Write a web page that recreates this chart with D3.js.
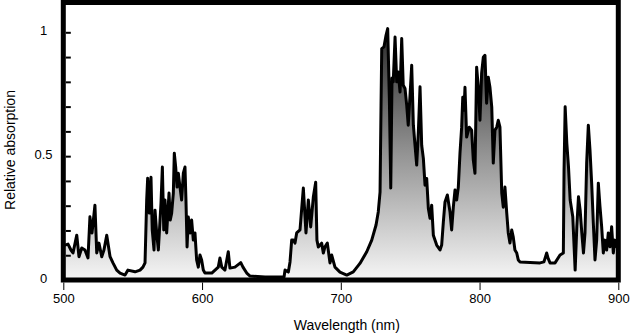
<!DOCTYPE html>
<html>
<head>
<meta charset="utf-8">
<script src="https://cdn.jsdelivr.net/npm/d3@7"></script>
<style>
  html, body { margin: 0; padding: 0; background: #fff; }
  svg { display: block; }
  text { font-family: "Liberation Sans", Arial, sans-serif; fill: #000; }
</style>
</head>
<body>
<svg id="chart" width="635" height="336"></svg>
<script>
// Absorption spectrum: wavelength (nm) and relative absorption
const wavelengths = [
  500, 501.2, 503.4, 505.5, 507.0, 509.7, 511.3, 513.3, 515.6, 517.8, 519.2, 520.7, 522.8, 524.1, 525.7, 527.7, 529.3, 531.3, 533.7, 535.8,
  538.5, 540.9, 544.5, 546.6, 551.7, 555.3, 557.4, 558.9, 560.1, 560.8, 562.0, 563.2, 564.1, 565.4, 566.1, 567.3, 568.5, 570.4, 571.4, 572.4,
  573.3, 574.5, 576.2, 577.1, 578.1, 579.3, 580.0, 581.0, 582.0, 582.9, 584.1, 585.3, 586.5, 587.7, 588.4, 589.2, 590.1, 591.3, 592.5, 593.7,
  594.9, 596.1, 597.3, 598.5, 599.7, 600.9, 602.1, 607.0, 611.7, 612.9, 614.2, 616.5, 618.9, 620.1, 623.7, 627.9, 629.5, 632.2, 634.6, 645.4,
  659.1, 659.8, 662.2, 663.4, 664.6, 665.8, 667.0, 668.2, 670.6, 673.0, 674.9, 676.6, 678.3, 680.2, 681.9, 682.8, 683.8, 686.2, 687.4, 688.6,
  690.3, 692.2, 693.4, 695.8, 699.4, 704.3, 709.0, 713.8, 718.7, 722.3, 725.4, 727.0, 728.3, 729.0, 729.5, 731.1, 732.6, 733.8, 735.0, 736.0,
  736.9, 737.8, 739.1, 740.3, 741.4, 742.7, 743.9, 745.0, 746.3, 747.5, 748.6, 749.9, 751.1, 752.3, 753.5, 754.7, 755.9, 757.1, 758.3, 759.5,
  760.7, 761.9, 763.1, 764.3, 765.5, 766.7, 769.1, 771.5, 772.7, 773.9, 775.1, 776.8, 778.7, 779.9, 781.1, 782.3, 783.5, 784.7, 785.9, 787.1,
  787.9, 788.8, 789.5, 790.7, 792.6, 794.3, 795.5, 796.7, 797.9, 799.1, 800.3, 801.5, 802.7, 803.9, 805.1, 806.3, 807.5, 808.8, 809.9, 811.1,
  812.4, 813.5, 814.7, 816.0, 817.1, 818.3, 819.6, 820.7, 821.9, 823.2, 824.3, 825.5, 826.8, 827.9, 829.2, 836.4, 843.6, 846.4, 848.4, 849.3,
  850.8, 854.4, 858.0, 860.4, 860.9, 861.7, 862.9, 864.1, 865.3, 867.2, 868.9, 870.1, 871.3, 872.5, 873.7, 874.9, 876.0, 877.2, 878.4, 879.6,
  880.8, 882.0, 883.2, 884.4, 885.6, 886.8, 888.0, 889.2, 890.4, 891.6, 892.8, 894.0, 895.2, 896.4, 897.5, 898.8, 900
];
const absorption = [
  0.141, 0.141, 0.145, 0.121, 0.109, 0.181, 0.094, 0.129, 0.121, 0.089, 0.255, 0.190, 0.302, 0.109, 0.149, 0.094, 0.121, 0.181, 0.094, 0.069,
  0.040, 0.028, 0.020, 0.040, 0.033, 0.040, 0.052, 0.069, 0.323, 0.411, 0.270, 0.415, 0.202, 0.121, 0.282, 0.190, 0.121, 0.310, 0.456, 0.202,
  0.323, 0.190, 0.351, 0.242, 0.270, 0.351, 0.512, 0.456, 0.375, 0.431, 0.375, 0.323, 0.431, 0.456, 0.323, 0.133, 0.254, 0.190, 0.242, 0.161,
  0.190, 0.081, 0.052, 0.101, 0.081, 0.040, 0.028, 0.028, 0.052, 0.089, 0.052, 0.040, 0.114, 0.048, 0.052, 0.070, 0.052, 0.028, 0.016, 0.012,
  0.012, 0.040, 0.032, 0.073, 0.161, 0.161, 0.149, 0.190, 0.202, 0.371, 0.190, 0.323, 0.214, 0.335, 0.395, 0.161, 0.133, 0.149, 0.109, 0.134,
  0.149, 0.069, 0.101, 0.052, 0.032, 0.020, 0.033, 0.067, 0.114, 0.161, 0.222, 0.275, 0.356, 0.706, 0.934, 0.941, 0.988, 1.015, 0.734, 0.371,
  0.815, 0.800, 0.981, 0.800, 0.840, 0.759, 0.975, 0.786, 0.773, 0.706, 0.625, 0.746, 0.867, 0.625, 0.544, 0.464, 0.598, 0.780, 0.544, 0.491,
  0.383, 0.410, 0.289, 0.249, 0.302, 0.181, 0.141, 0.121, 0.141, 0.234, 0.315, 0.343, 0.275, 0.202, 0.294, 0.363, 0.323, 0.375, 0.512, 0.617,
  0.738, 0.685, 0.778, 0.577, 0.617, 0.605, 0.484, 0.431, 0.859, 0.778, 0.645, 0.835, 0.899, 0.907, 0.714, 0.819, 0.778, 0.698, 0.472, 0.605,
  0.617, 0.645, 0.617, 0.351, 0.294, 0.375, 0.270, 0.190, 0.149, 0.202, 0.173, 0.121, 0.109, 0.081, 0.073, 0.071, 0.069, 0.073, 0.109, 0.089,
  0.069, 0.069, 0.101, 0.109, 0.444, 0.699, 0.552, 0.457, 0.323, 0.255, 0.040, 0.215, 0.336, 0.282, 0.190, 0.109, 0.190, 0.472, 0.625, 0.524,
  0.391, 0.230, 0.081, 0.161, 0.391, 0.296, 0.215, 0.109, 0.161, 0.121, 0.190, 0.134, 0.215, 0.109, 0.161, 0.134, 0.141
];
const xTicks = [500, 600, 700, 800, 900];
const yLabelTicks = [0, 0.5, 1];
const yMinorTicks = d3.range(0, 1.01, 0.1);

const data = wavelengths.map((w, i) => ({ w, v: absorption[i] }));

const svg = d3.select("#chart");

const plotLeft = 63.3, plotRight = 618.3, plotBottom = 280, plotTop = 2.5;
const x = d3.scaleLinear().domain([500, 900]).range([plotLeft, plotRight]);
const y = d3.scaleLinear().domain([0, 1]).range([plotBottom, 32.3]);

// vertical grey ramp tied to absorption level
const defs = svg.append("defs");
const grad = defs.append("linearGradient")
  .attr("id", "fillRamp")
  .attr("gradientUnits", "userSpaceOnUse")
  .attr("x1", 0).attr("x2", 0)
  .attr("y1", y(1.02)).attr("y2", y(0));
grad.append("stop").attr("offset", 0).attr("stop-color", "#262626");
grad.append("stop").attr("offset", 0.5).attr("stop-color", "#939393");
grad.append("stop").attr("offset", 1).attr("stop-color", "#f6f6f6");

defs.append("clipPath").attr("id", "plotClip")
  .append("rect")
  .attr("x", plotLeft).attr("y", plotTop)
  .attr("width", plotRight - plotLeft).attr("height", plotBottom - plotTop);

const plot = svg.append("g").attr("clip-path", "url(#plotClip)");

const area = d3.area()
  .x(d => x(d.w))
  .y0(y(0))
  .y1(d => y(d.v));

const line = d3.line()
  .x(d => x(d.w))
  .y(d => y(d.v));

plot.append("path")
  .datum(data)
  .attr("d", area)
  .attr("fill", "url(#fillRamp)");

plot.append("path")
  .datum(data)
  .attr("d", line)
  .attr("fill", "none")
  .attr("stroke", "#000")
  .attr("stroke-width", 3)
  .attr("stroke-linejoin", "round");

// x axis: ticks below the frame
const xAxis = svg.append("g")
  .attr("transform", `translate(0,${plotBottom + 2.5})`)
  .call(d3.axisBottom(x).tickValues(xTicks).tickSize(7.5).tickPadding(4).tickFormat(d3.format("d")));
xAxis.select(".domain").remove();
xAxis.selectAll("line").attr("stroke", "#000").attr("stroke-width", 1);
xAxis.selectAll("text").attr("font-size", 13).attr("font-family", "Liberation Sans, Arial, sans-serif");

// y axis: small ticks pointing into the frame
const yTicks = svg.append("g")
  .attr("transform", `translate(${plotLeft + 2.5},0)`)
  .call(d3.axisRight(y).tickValues(yMinorTicks).tickSize(5).tickFormat(""));
yTicks.select(".domain").remove();
yTicks.selectAll("line").attr("stroke", "#000").attr("stroke-width", 2);

// y tick labels
const yLabels = svg.append("g")
  .attr("transform", `translate(43.5,0)`)
  .call(d3.axisLeft(y).tickValues(yLabelTicks).tickSize(0).tickPadding(0)
    .tickFormat(d => d === 0.5 ? "0.5" : d3.format("d")(d)));
yLabels.select(".domain").remove();
yLabels.selectAll("text")
  .attr("text-anchor", "middle")
  .attr("dy", "0.32em")
  .attr("y", -1.5)
  .attr("font-size", 13)
  .attr("font-family", "Liberation Sans, Arial, sans-serif");

// frame
svg.append("rect")
  .attr("x", plotLeft).attr("y", plotTop)
  .attr("width", plotRight - plotLeft).attr("height", plotBottom - plotTop)
  .attr("fill", "none")
  .attr("stroke", "#000")
  .attr("stroke-width", 5);

// axis titles
svg.append("text")
  .attr("x", (plotLeft + plotRight) / 2 + 6)
  .attr("y", 330)
  .attr("text-anchor", "middle")
  .attr("font-size", 14)
  .text("Wavelength (nm)");

svg.append("text")
  .attr("transform", "translate(15,150) rotate(-90)")
  .attr("text-anchor", "middle")
  .attr("font-size", 14)
  .text("Relative absorption");
</script>
</body>
</html>
